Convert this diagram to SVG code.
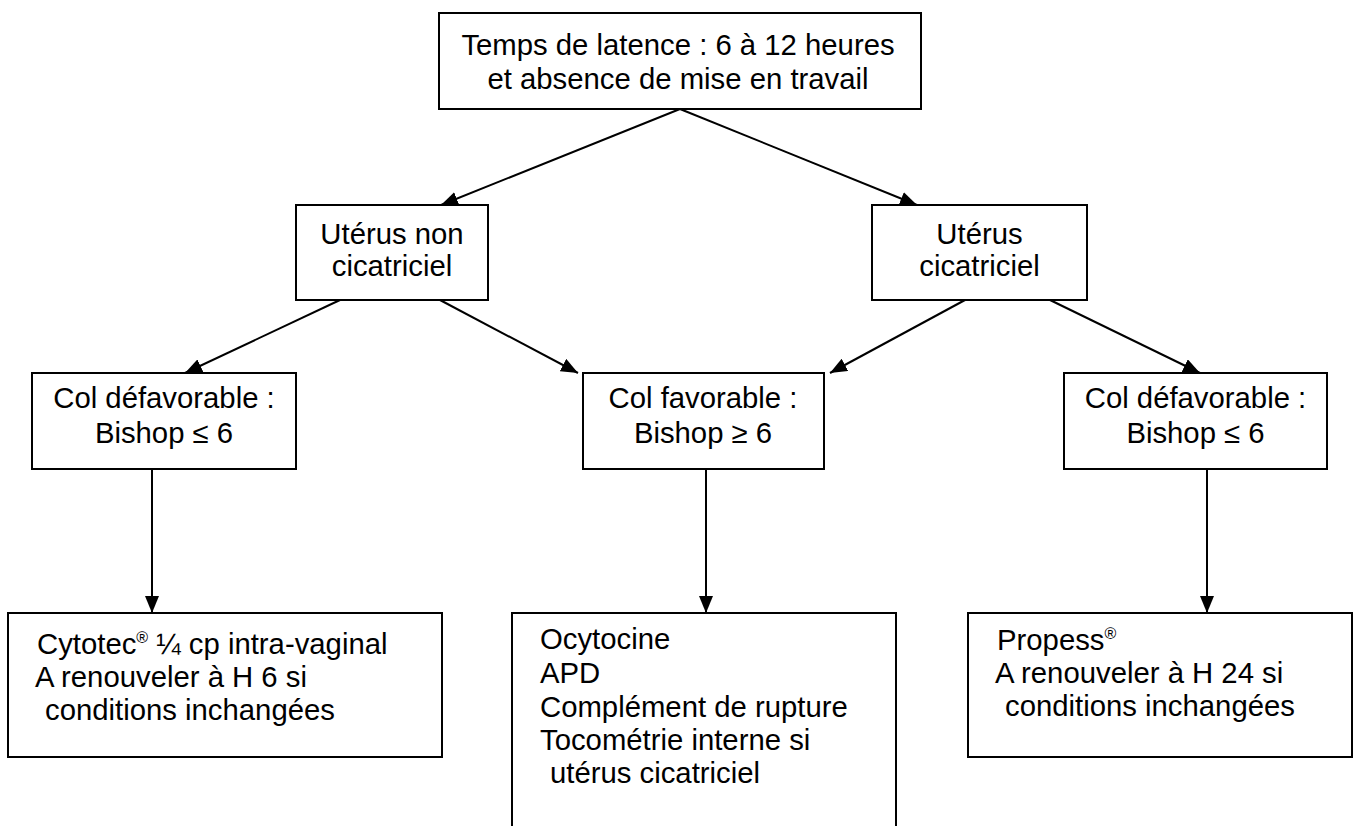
<svg xmlns="http://www.w3.org/2000/svg" width="1357" height="826" viewBox="0 0 1357 826">
<style>
.box{fill:#fff;stroke:#000;stroke-width:2}
.t{font-family:"Liberation Sans",Arial,sans-serif;font-size:29.3px;fill:#000}
.c{text-anchor:middle}
.edge{stroke:#000;stroke-width:2;fill:none;marker-end:url(#ah)}
.sup{font-size:16px}
</style>
<defs>
<marker id="ah" markerUnits="userSpaceOnUse" markerWidth="17" markerHeight="14" refX="17" refY="7" orient="auto">
<path d="M0,0 L17,7 L0,14 Z" fill="#000"/>
</marker>
</defs>
<rect width="1357" height="826" fill="#fff"/>
<g id="connectors">
<line class="edge" x1="680" y1="109" x2="441" y2="205"/>
<line class="edge" x1="680" y1="109" x2="917" y2="205"/>
<line class="edge" x1="340" y1="300" x2="185" y2="373"/>
<line class="edge" x1="440" y1="300" x2="578" y2="373"/>
<line class="edge" x1="965" y1="300" x2="830" y2="373"/>
<line class="edge" x1="1050" y1="300" x2="1200" y2="373"/>
<line class="edge" x1="152" y1="469" x2="152" y2="613"/>
<line class="edge" x1="706" y1="469" x2="706" y2="613"/>
<line class="edge" x1="1207" y1="469" x2="1207" y2="613"/>
</g>
<g id="n-top">
<rect class="box" x="439" y="13" width="482" height="96"/>
<text class="t c" x="678" y="55">Temps de latence : 6 à 12 heures</text>
<text class="t c" x="678" y="89">et absence de mise en travail</text>
</g>
<g id="n-uterus-non">
<rect class="box" x="296" y="205" width="192" height="95"/>
<text class="t c" x="392" y="244">Utérus non</text>
<text class="t c" x="392" y="276">cicatriciel</text>
</g>
<g id="n-uterus-cic">
<rect class="box" x="872" y="205" width="215" height="95"/>
<text class="t c" x="979.5" y="244">Utérus</text>
<text class="t c" x="979.5" y="276">cicatriciel</text>
</g>
<g id="n-col-def-left">
<rect class="box" x="32" y="373" width="264" height="96"/>
<text class="t c" x="164" y="408">Col défavorable :</text>
<text class="t c" x="164" y="443">Bishop ≤ 6</text>
</g>
<g id="n-col-fav">
<rect class="box" x="583" y="373" width="241" height="96"/>
<text class="t c" x="703" y="408">Col favorable :</text>
<text class="t c" x="703" y="443">Bishop ≥ 6</text>
</g>
<g id="n-col-def-right">
<rect class="box" x="1064" y="373" width="263" height="96"/>
<text class="t c" x="1195.5" y="408">Col défavorable :</text>
<text class="t c" x="1195.5" y="443">Bishop ≤ 6</text>
</g>
<g id="n-cytotec">
<rect class="box" x="8" y="613" width="434" height="144"/>
<text class="t" x="37" y="654">Cytotec<tspan class="sup" dy="-11">®</tspan><tspan dy="11"> ¼ cp intra-vaginal</tspan></text>
<text class="t" x="35" y="687">A renouveler à H 6 si</text>
<text class="t" x="45" y="720">conditions inchangées</text>
</g>
<g id="n-ocytocine">
<path class="box" d="M512,830 L512,613 L896,613 L896,830"/>
<text class="t" x="540" y="649">Ocytocine</text>
<text class="t" x="540" y="683">APD</text>
<text class="t" x="540" y="717">Complément de rupture</text>
<text class="t" x="540" y="750">Tocométrie interne si</text>
<text class="t" x="550" y="783">utérus cicatriciel</text>
</g>
<g id="n-propess">
<rect class="box" x="968" y="613" width="384" height="144"/>
<text class="t" x="997" y="650">Propess<tspan class="sup" dy="-11">®</tspan></text>
<text class="t" x="995" y="683">A renouveler à H 24 si</text>
<text class="t" x="1005" y="716">conditions inchangées</text>
</g>
</svg>
